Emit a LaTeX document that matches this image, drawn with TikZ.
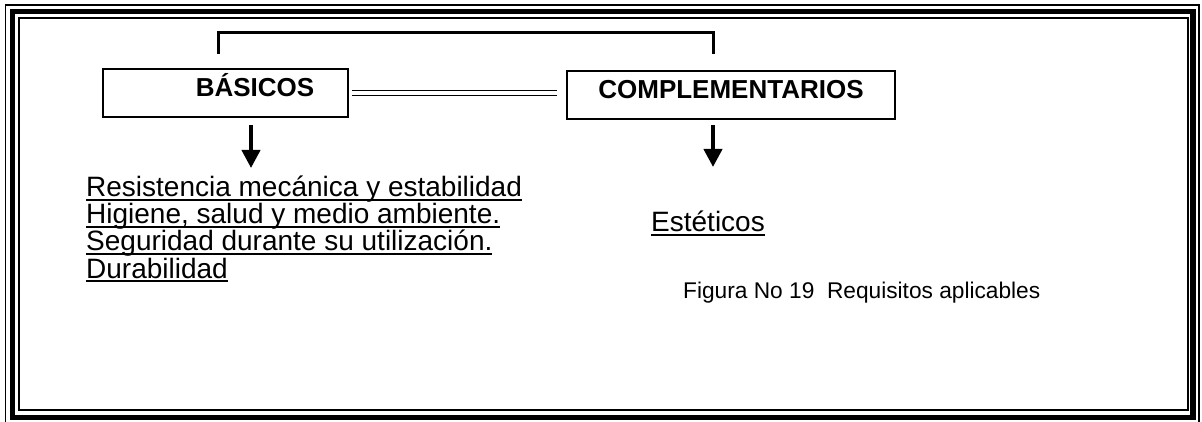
\documentclass[tikz,border=0pt]{standalone}
\usepackage{fontspec}
\setmainfont{Liberation Sans}
\usetikzlibrary{arrows.meta}
\newcommand\ulin[1]{\setbox0\hbox{#1}\rlap{\rule[-4.2pt]{\wd0}{2.2pt}}\box0}
\tikzset{
  box/.style={draw, line width=2pt, inner sep=0pt},
  boxlabel/.style={anchor=base, inner sep=0pt, font=\fontsize{26}{30}\selectfont\bfseries},
  item/.style={anchor=base west, inner sep=0pt, font=\fontsize{28}{33}\selectfont},
  caption/.style={anchor=base west, inner sep=0pt, font=\fontsize{22.7}{27}\selectfont},
  arr/.style={line width=4pt, -{Triangle[width=18pt,length=18pt]}},
  bracket/.style={line width=3pt},
}
\begin{document}
\begin{tikzpicture}[x=1pt,y=-1pt]
\useasboundingbox (0,0) rectangle (1202,422);
% triple frame
\draw[line width=1.6pt] (5.5,5) rectangle (1199,423);
\draw[line width=5.5pt] (12.5,11.5) rectangle (1193,417.5);
\draw[line width=2pt] (19,18.5) rectangle (1187.5,409.5);
% boxes
\node[box, minimum width=245pt, minimum height=48pt] (bas) at (225.5,93) {};
\node[boxlabel] (bast) at (255,97) {BÁSICOS};
\node[box, minimum width=328pt, minimum height=48pt] (comp) at (731,95.5) {};
\node[boxlabel] (compt) at (731,99) {COMPLEMENTARIOS};
% double connector
\coordinate (dl) at (352,93);
\coordinate (dr) at (557,93);
\draw[line width=1.8pt, double, double distance=3.2pt] (dl) -- (dr);
% bracket
\coordinate (bl) at (218,54);
\coordinate (br) at (713,54);
\draw[bracket] (bl) -- (218,33) -- (713,33) -- (br);
% arrows
\coordinate (a1s) at (251,125);
\coordinate (a1e) at (251,168);
\coordinate (a2s) at (713,125);
\coordinate (a2e) at (713,167);
\draw[arr] (a1s) -- (a1e);
\draw[arr] (a2s) -- (a2e);
% list
\node[item] (l1) at (86,197) {\ulin{Resistencia mecánica y estabilidad}};
\node[item] (l2) at (86,224) {\ulin{Higiene, salud y medio ambiente.}};
\node[item] (l3) at (86,251) {\ulin{Seguridad durante su utilización.}};
\node[item] (l4) at (86,278) {\ulin{Durabilidad}};
\node[item] (est) at (651,232) {\ulin{Estéticos}};
\node[caption] (cap) at (683,298) {Figura No 19~~Requisitos aplicables};
\end{tikzpicture}
\end{document}
